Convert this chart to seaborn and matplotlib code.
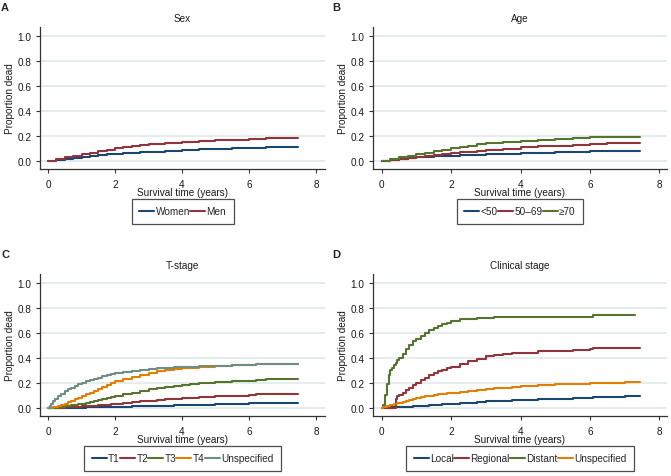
import matplotlib
matplotlib.use("Agg")
import matplotlib.pyplot as plt
import seaborn as sns
import pandas as pd
import numpy as np

sns.set_style("white")
plt.rcParams['font.family'] = ['Liberation Sans', 'DejaVu Sans']
FS = 7.2

# Stata s2color palette
NAVY = "#1a476f"
MAROON = "#90353b"
GREEN = "#55752f"
ORANGE = "#e37e00"
TEAL = "#6e8e84"

# ---- Panel A: Sex ----
sex_labels = ["Women", "Men"]
sex_t = [0, 0.25, 0.5, 0.75, 1, 1.25, 1.5, 1.75, 2, 2.25, 2.5, 2.75, 3, 3.5, 4, 4.5, 5, 5.5, 6, 6.5, 7, 7.45]
women = [0, 0.008, 0.015, 0.022, 0.03, 0.037, 0.044, 0.05, 0.055, 0.06, 0.064, 0.068, 0.072, 0.079, 0.085, 0.09, 0.094, 0.098, 0.102, 0.105, 0.107, 0.108]
men = [0, 0.013, 0.025, 0.038, 0.05, 0.062, 0.074, 0.086, 0.098, 0.107, 0.115, 0.123, 0.13, 0.14, 0.148, 0.155, 0.162, 0.168, 0.173, 0.178, 0.18, 0.182]

# ---- Panel B: Age ----
age_labels = ["<50", "50\u201369", "\u226570"]
age_t = [0, 0.25, 0.5, 0.75, 1, 1.25, 1.5, 1.75, 2, 2.25, 2.5, 2.75, 3, 3.5, 4, 4.5, 5, 5.5, 6, 6.5, 7, 7.45]
age_lt50 = [0, 0.006, 0.012, 0.019, 0.025, 0.029, 0.033, 0.037, 0.04, 0.042, 0.045, 0.048, 0.05, 0.055, 0.06, 0.064, 0.068, 0.072, 0.075, 0.078, 0.08, 0.08]
age_50_69 = [0, 0.007, 0.015, 0.022, 0.03, 0.037, 0.045, 0.052, 0.06, 0.066, 0.072, 0.078, 0.085, 0.095, 0.105, 0.113, 0.12, 0.127, 0.133, 0.138, 0.142, 0.142]
age_ge70 = [0, 0.012, 0.025, 0.038, 0.05, 0.062, 0.075, 0.088, 0.1, 0.11, 0.12, 0.13, 0.14, 0.152, 0.16, 0.168, 0.175, 0.18, 0.185, 0.188, 0.19, 0.19]

# ---- Panel C: T-stage ----
t_labels = ["T1", "T2", "T3", "T4", "Unspecified"]
t_time = [0, 0.05, 0.1, 0.15, 0.2, 0.3, 0.4, 0.5, 0.6, 0.7, 0.8, 0.9, 1, 1.125, 1.25, 1.375, 1.5, 1.625, 1.75, 1.875,
          2, 2.25, 2.5, 2.75, 3, 3.25, 3.5, 3.75, 4, 4.25, 4.5, 5, 5.5, 6, 6.2, 6.5, 7, 7.45]
t1 = [0, 0, 0, 0, 0, 0, 0, 0, 0, 0, 0, 0, 0, 0.001, 0.002, 0.002, 0.003, 0.003, 0.004, 0.004,
      0.005, 0.007, 0.009, 0.011, 0.012, 0.014, 0.016, 0.018, 0.02, 0.022, 0.024, 0.027, 0.03, 0.033, 0.035, 0.037, 0.038, 0.038]
t2 = [0, 0, 0, 0, 0, 0, 0, 0.003, 0.004, 0.005, 0.007, 0.008, 0.01, 0.012, 0.014, 0.016, 0.018, 0.021, 0.024, 0.027,
      0.03, 0.037, 0.043, 0.049, 0.055, 0.06, 0.065, 0.07, 0.075, 0.079, 0.083, 0.09, 0.095, 0.1, 0.105, 0.11, 0.112, 0.112]
t3 = [0, 0, 0, 0, 0, 0.002, 0.005, 0.01, 0.014, 0.018, 0.022, 0.026, 0.03, 0.037, 0.045, 0.052, 0.06, 0.067, 0.075, 0.082,
      0.09, 0.105, 0.12, 0.135, 0.15, 0.158, 0.165, 0.172, 0.18, 0.188, 0.195, 0.205, 0.21, 0.215, 0.218, 0.225, 0.225, 0.225]
t4 = [0, 0, 0, 0.002, 0.005, 0.01, 0.018, 0.03, 0.042, 0.054, 0.066, 0.078, 0.09, 0.105, 0.12, 0.135, 0.15, 0.165, 0.18, 0.195,
      0.21, 0.23, 0.245, 0.26, 0.275, 0.29, 0.3, 0.308, 0.315, 0.32, 0.325, 0.335, 0.338, 0.34, 0.35, 0.35, 0.35, 0.35]
t_unspec = [0, 0.015, 0.03, 0.05, 0.065, 0.09, 0.11, 0.13, 0.145, 0.16, 0.175, 0.185, 0.2, 0.21, 0.22, 0.23, 0.24, 0.25, 0.26, 0.268,
            0.275, 0.285, 0.29, 0.3, 0.31, 0.315, 0.32, 0.322, 0.325, 0.328, 0.33, 0.335, 0.34, 0.342, 0.35, 0.35, 0.352, 0.352]

# ---- Panel D: Clinical stage ----
cs_labels = ["Local", "Regional", "Distant", "Unspecified"]
cs_time = [0, 0.05, 0.1, 0.15, 0.2, 0.25, 0.3, 0.35, 0.4, 0.45, 0.5, 0.6, 0.7, 0.8, 0.9, 1, 1.125, 1.25, 1.375, 1.5, 1.625,
           1.75, 1.875, 2, 2.25, 2.5, 2.75, 3, 3.25, 3.5, 3.75, 4, 4.5, 5, 5.5, 6, 6.1, 6.5, 7, 7.3, 7.45]
cs_local = [0, 0, 0, 0, 0, 0.001, 0.002, 0.003, 0.003, 0.004, 0.005, 0.006, 0.007, 0.008, 0.009, 0.01, 0.012, 0.015, 0.017, 0.02, 0.022,
            0.025, 0.027, 0.03, 0.035, 0.04, 0.045, 0.05, 0.053, 0.055, 0.058, 0.06, 0.065, 0.07, 0.075, 0.08, 0.083, 0.088, 0.09, 0.092, 0.092]
cs_regional = [0, 0, 0, 0, 0, 0, 0, 0, 0.07, 0.09, 0.1, 0.12, 0.14, 0.16, 0.18, 0.2, 0.22, 0.24, 0.26, 0.275, 0.29,
               0.3, 0.315, 0.325, 0.35, 0.37, 0.39, 0.41, 0.42, 0.43, 0.435, 0.44, 0.45, 0.455, 0.46, 0.465, 0.475, 0.475, 0.475, 0.475, 0.475]
cs_distant = [0, 0.02, 0.1, 0.19, 0.26, 0.3, 0.32, 0.34, 0.36, 0.38, 0.4, 0.43, 0.47, 0.5, 0.53, 0.55, 0.57, 0.6, 0.62, 0.64, 0.655,
              0.665, 0.68, 0.69, 0.705, 0.712, 0.715, 0.72, 0.722, 0.725, 0.725, 0.725, 0.725, 0.725, 0.725, 0.725, 0.737, 0.737, 0.737, 0.737, np.nan]
cs_unspec = [0, 0.003, 0.006, 0.01, 0.013, 0.017, 0.02, 0.025, 0.03, 0.035, 0.04, 0.047, 0.055, 0.062, 0.07, 0.077, 0.085, 0.09, 0.096, 0.1, 0.105,
             0.11, 0.115, 0.12, 0.128, 0.135, 0.142, 0.15, 0.155, 0.16, 0.165, 0.17, 0.18, 0.185, 0.19, 0.195, 0.196, 0.2, 0.203, 0.205, 0.205]

panels = [
    ("A", "Sex", sex_t, sex_labels, [women, men], [NAVY, MAROON]),
    ("B", "Age", age_t, age_labels, [age_lt50, age_50_69, age_ge70], [NAVY, MAROON, GREEN]),
    ("C", "T-stage", t_time, t_labels, [t1, t2, t3, t4, t_unspec], [NAVY, MAROON, GREEN, ORANGE, TEAL]),
    ("D", "Clinical stage", cs_time, cs_labels, [cs_local, cs_regional, cs_distant, cs_unspec], [NAVY, MAROON, GREEN, ORANGE]),
]

W, H = 671, 477
fig = plt.figure(figsize=(W / 100, H / 100), dpi=100)

# axes boxes in pixels: left, top, right, bottom
boxes = [(40, 28, 325, 170), (373, 28, 667, 170), (40, 275, 325, 417), (373, 275, 667, 417)]
xlims = [(-0.24, 8.27), (-0.25, 8.22), (-0.24, 8.27), (-0.25, 8.22)]
label_pos = [(1, 3), (332, 3), (1, 250), (332, 250)]

for (letter, title, times, labels, series, colors), (l, t, r, b), xl, (lx, ly) in zip(panels, boxes, xlims, label_pos):
    ax = fig.add_axes([l / W, 1 - b / H, (r - l) / W, (b - t) / H])
    rows = []
    for lab, vals in zip(labels, series):
        for tt, v in zip(times, vals):
            rows.append({"time": tt, "dead": v, "group": lab})
    df = pd.DataFrame(rows).dropna()
    sns.lineplot(data=df, x="time", y="dead", hue="group", hue_order=labels,
                 palette=dict(zip(labels, colors)), estimator=None, sort=True,
                 drawstyle="steps-post", linewidth=1.5, legend=False, ax=ax)

    ax.set_xlim(*xl)
    ax.set_ylim(-0.067, 1.068)
    ax.set_xticks([0, 2, 4, 6, 8])
    ax.set_yticks([0, 0.2, 0.4, 0.6, 0.8, 1.0])
    ax.set_yticklabels([f"{v:.1f}" for v in [0, 0.2, 0.4, 0.6, 0.8, 1.0]])
    ax.yaxis.grid(True, color="#e4ecee", linewidth=1.4)
    ax.set_axisbelow(True)
    for s in ["top", "right"]:
        ax.spines[s].set_visible(False)
    for s in ["left", "bottom"]:
        ax.spines[s].set_color("#333333")
        ax.spines[s].set_linewidth(0.9)
    ax.tick_params(axis="both", direction="out", length=3, width=0.8, color="#333333",
                   labelsize=FS, labelcolor="#1a1a1a", left=True, bottom=True)
    ax.tick_params(axis="x", pad=4)
    ax.tick_params(axis="y", pad=3)
    ax.set_xlabel("Survival time (years)", fontsize=FS, color="#1a1a1a", labelpad=-1)
    ax.set_ylabel("Proportion dead", fontsize=FS, color="#1a1a1a", labelpad=2)
    ax.set_title(title, fontsize=FS, color="#1a1a1a", pad=4)

    handles = [plt.Line2D([], [], color=c, linewidth=1.5) for c in colors]
    leg = ax.legend(handles, labels, loc="upper center", bbox_to_anchor=(0.5, -0.21),
                    ncol=len(labels), frameon=True, fancybox=False, fontsize=FS,
                    handlelength=1.5, handletextpad=0.15, columnspacing=0.0,
                    borderpad=0.75, borderaxespad=0)
    leg.get_frame().set_edgecolor("#222222")
    leg.get_frame().set_linewidth(0.9)

    fig.text(lx / W, 1 - ly / H, letter, fontsize=8, fontweight="bold", va="top", ha="left")

fig.savefig("out.png", dpi=100, facecolor="white")
